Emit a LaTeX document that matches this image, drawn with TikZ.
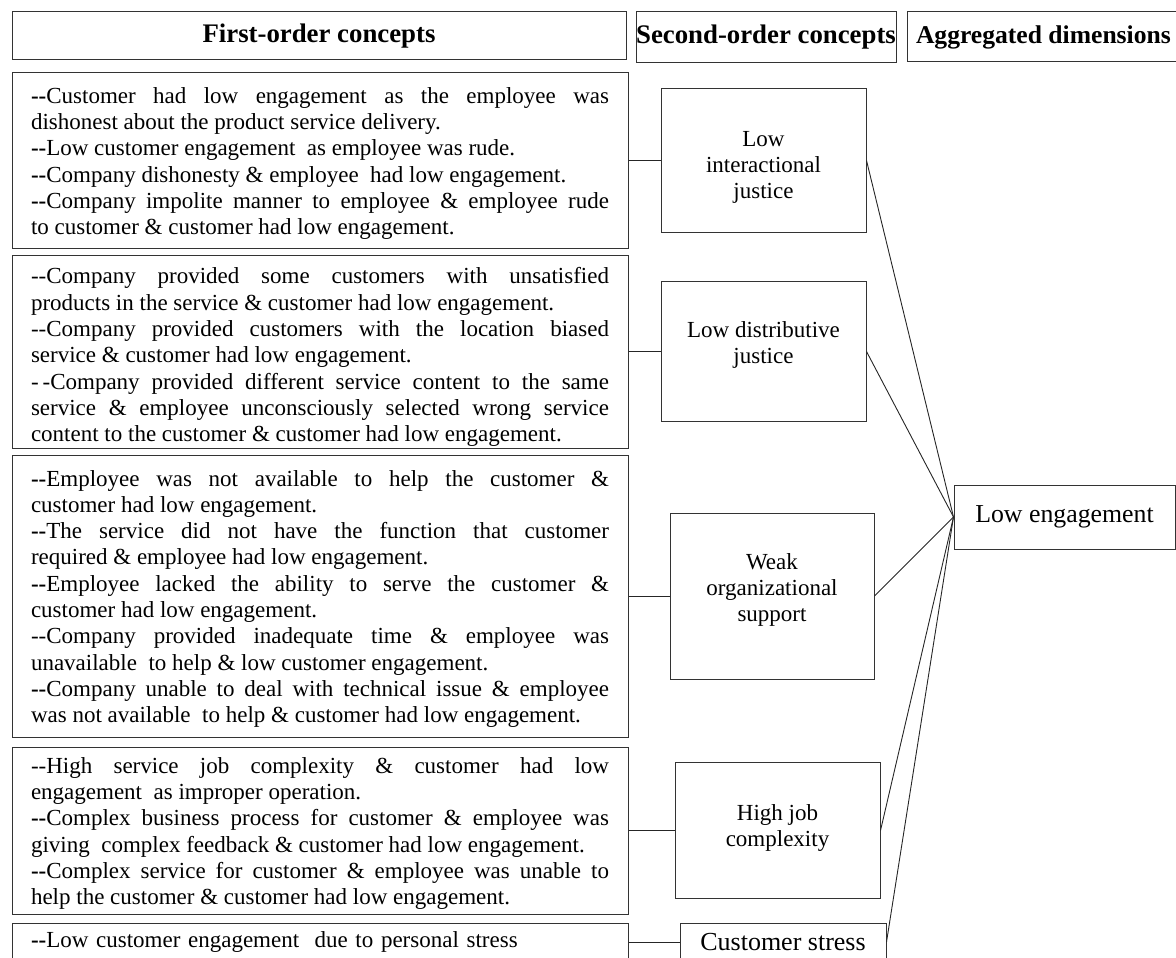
\documentclass[tikz,border=0pt]{standalone}
\usepackage{fontspec}
\setmainfont{Liberation Serif}
\newcommand\dd{-\kern0pt-}
\newcommand\bd{\textbf{-\kern0pt-}}
\newcommand\lift[1]{\rule[-#1]{0pt}{#1}}
\tolerance=10000
\hbadness=10000
\hyphenpenalty=10000
\tikzset{
  hdr/.style={draw=black!80, line width=1pt, inner sep=0pt,
    font=\fontsize{26.8}{30}\selectfont\bfseries},
  fobox/.style={draw=black!80, line width=1pt, inner xsep=19pt, inner ysep=0pt,
    text width=578pt, align=justify, font=\fontsize{23}{26.3}\selectfont},
  sobox/.style={draw=black!80, line width=1pt, inner sep=0pt, align=center,
    font=\fontsize{23}{26}\selectfont},
  link/.style={draw=black!85, line width=0.9pt},
}
\begin{document}
\begin{tikzpicture}[x=1pt,y=-1pt]
\useasboundingbox (0,0) rectangle (1176,958);
% headers
\node[hdr, minimum width=614pt, minimum height=47.5pt] (h1) at (319,35.75) {First-order concepts};
\node[hdr, minimum width=260pt, minimum height=51pt] (h2) at (766,37.5) {Second-order concepts};
\node[hdr, minimum width=293pt, minimum height=50pt, font=\fontsize{25.6}{30}\selectfont\bfseries] (h3) at (1053.5,37) {\makebox[275pt][l]{Aggregated dimensions}};
% first-order boxes
\node[fobox, minimum height=175pt] (b1) at (320,160.5) {\rule{0pt}{21.7pt}%
\bd Customer had low engagement as the employee was\linebreak dishonest about the product service delivery.\par
\bd Low customer engagement \ as employee was rude.\par
\bd Company dishonesty \& employee \ had low engagement.\par
\bd Company impolite manner to employee \& employee rude\linebreak to customer \& customer had low engagement.};
\node[fobox, minimum height=193pt] (b2) at (320,351.5) {\rule{0pt}{27.7pt}%
\dd Company provided some customers with unsatisfied\linebreak products in the service \& customer had low engagement.\par
\dd Company provided customers with the location biased\linebreak service \& customer had low engagement.\par
-\kern4pt-Company provided different service content to the same\linebreak service \& employee unconsciously selected wrong service\linebreak content to the customer \& customer had low engagement.};
\node[fobox, minimum height=282pt] (b3) at (320,596) {\rule{0pt}{21.7pt}%
\bd Employee was not available to help the customer \&\linebreak customer had low engagement.\par
\bd The service did not have the function that customer\linebreak required \& employee had low engagement.\par
\bd Employee lacked the ability to serve the customer \&\linebreak customer had low engagement.\par
\dd Company provided inadequate time \& employee was\linebreak unavailable \ to help \& low customer engagement.\par
\bd Company unable to deal with technical issue \& employee\linebreak was not available \ to help \& customer had low engagement.};
\node[fobox, minimum height=167pt] (b4) at (320,830.5) {\rule{0pt}{21.7pt}%
\dd High service job complexity \& customer had low\linebreak engagement \ as improper operation.\par
\bd Complex business process for customer \& employee was\linebreak giving \ complex feedback \& customer had low engagement.\par
\bd Complex service for customer \& employee was unable to\linebreak help the customer \& customer had low engagement.};
\node[fobox, minimum height=38pt, align=left] (b5) at (320,942) {\bd Low customer engagement \ due to personal stress};
% second-order boxes
\node[sobox, minimum width=205pt, minimum height=143pt] (lij) at (763.5,160.5) {\rule{0pt}{29pt}Low\\interactional\\justice};
\node[sobox, minimum width=205pt, minimum height=140pt] (ld) at (763.5,351.5) {Low distributive\\justice\lift{18pt}};
\node[sobox, minimum width=204pt, minimum height=166pt] (wos) at (772,596) {Weak\\organizational\\support\lift{16pt}};
\node[sobox, minimum width=205pt, minimum height=136pt] (hjc) at (777.5,830.5) {High job\\complexity\lift{10pt}};
\node[sobox, minimum width=206pt, minimum height=38pt, font=\fontsize{26}{28}\selectfont] (cs) at (783,942) {Customer stress};
% aggregated dimension
\node[sobox, minimum width=221pt, minimum height=64pt, font=\fontsize{25.8}{28}\selectfont] (le) at (1064.5,517) {Low engagement};
% connectors
\draw[link] (b1.east) -- (lij.west);
\draw[link] (b2.east) -- (ld.west);
\draw[link] (b3.east) -- (wos.west);
\draw[link] (b4.east) -- (hjc.west);
\draw[link] (b5.east) -- (cs.west);
\draw[link] (lij.east) -- (le.west);
\draw[link] (ld.east) -- (le.west);
\draw[link] (wos.east) -- (le.west);
\draw[link] (hjc.east) -- (le.west);
\draw[link] (cs.east) -- (le.west);
\end{tikzpicture}
\end{document}
